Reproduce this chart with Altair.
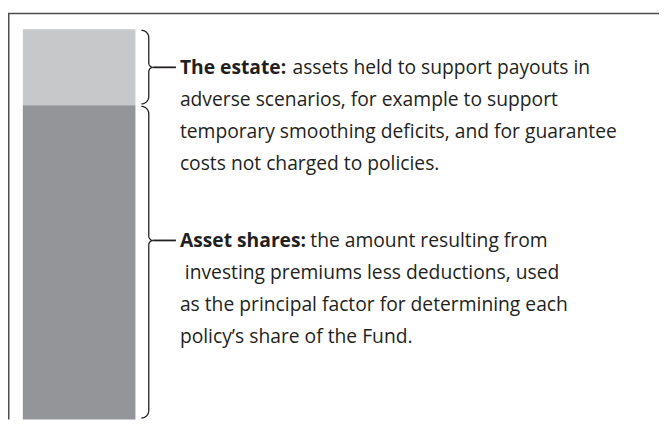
import altair as alt
import pandas as pd
import numpy as np

# ---- data -------------------------------------------------------------
segments = ["The estate", "Asset shares"]
shares = [19.5, 80.5]                      # share of the fund (percent of bar height)
seg_colors = ["#c7c8ca", "#939598"]

bold_labels = ["The estate:", "Asset shares:"]
estate_lines = [
    "assets held to support payouts in",
    "adverse scenarios, for example to support",
    "temporary smoothing deficits, and for guarantee",
    "costs not charged to policies.",
]
asset_lines = [
    "the amount resulting from",
    "investing premiums less deductions, used",
    "as the principal factor for determining each",
    "policy\u2019s share of the Fund.",
]
asset_indent = [0, 5, 0, 0]       # second line is indented by one space in the source

# ---- layout (pixels, chart coordinates) --------------------------------
W, H = 659, 414
Y0, Y1 = 19, 414                 # bar top / bottom on screen
PXP = (Y1 - Y0) / 100.0          # pixels per percent
TEXT = "#231f20"
FONT = "Open Sans"
FS = 19.5
LINE_H = 32.4
tip_frac = [0.5, 0.43]
cont_x = [288, 306]              # where regular text continues after bold label
X_CURL, X_VERT, R1, R2 = 135, 142.5, 7.5, 4.5
X_TIP = X_VERT + R2
X_DASH_END = 170
X_TEXT = 174

def to_pct(px):
    return (px - Y0) / PXP

# bar table
starts = np.concatenate([[0], np.cumsum(shares)[:-1]])
ends = np.cumsum(shares)
bar_df = pd.DataFrame({"segment": segments, "start": starts, "end": ends, "col": "Fund"})

# braces derived from segment extents
brace_rows, dash_rows, text_rows = [], [], []
for i, seg in enumerate(segments):
    t = Y0 + starts[i] * PXP + 1
    b = Y0 + ends[i] * PXP - 1.5
    m = Y0 + (starts[i] + tip_frac[i] * shares[i]) * PXP
    a = np.linspace(0, np.pi / 2, 12)
    pts = []
    pts += [(X_CURL + R1 * np.sin(v), t + R1 - R1 * np.cos(v)) for v in a]
    pts += [(X_VERT + R2 - R2 * np.cos(v), m - R2 + R2 * np.sin(v)) for v in a]
    pts += [(X_VERT + R2 - R2 * np.cos(v), m + R2 - R2 * np.sin(v)) for v in a[::-1]]
    pts += [(X_CURL + R1 * np.cos(v), b - R1 + R1 * np.sin(v)) for v in a]
    for k, (px, py) in enumerate(pts):
        brace_rows.append({"brace": seg, "x": px, "y": to_pct(py), "o": k})
    dash_rows.append({"x": X_TIP, "x2": X_DASH_END, "y": to_pct(m)})
    lines = estate_lines if i == 0 else asset_lines
    indent = [0, 0, 0, 0] if i == 0 else asset_indent
    text_rows.append({"text": bold_labels[i], "x": X_TEXT, "y": to_pct(m + 0.5), "w": "bold"})
    for j, ln in enumerate(lines):
        text_rows.append({"text": ln, "x": (cont_x[i] if j == 0 else X_TEXT) + indent[j],
                          "y": to_pct(m + 0.5 + j * LINE_H), "w": "normal"})

brace_df = pd.DataFrame(brace_rows)
dash_df = pd.DataFrame(dash_rows)
text_df = pd.DataFrame(text_rows)

yscale = alt.Scale(domain=[0, 100], range=[Y0, Y1], nice=False, zero=False)
xscale = alt.Scale(domain=[0, W], nice=False, zero=False)

bars = alt.Chart(bar_df).mark_bar().encode(
    x=alt.X("col:N", scale=alt.Scale(domain=["Fund"], range=[15, 129],
                                     paddingInner=0, paddingOuter=0), axis=None),
    y=alt.Y("start:Q", scale=yscale, axis=None),
    y2="end:Q",
    color=alt.Color("segment:N", scale=alt.Scale(domain=segments, range=seg_colors), legend=None),
)

braces = alt.Chart(brace_df).mark_line(color=TEXT, strokeWidth=1.3).encode(
    x=alt.X("x:Q", scale=xscale, axis=None),
    y=alt.Y("y:Q", scale=yscale, axis=None),
    detail="brace:N",
    order="o:Q",
)

dashes = alt.Chart(dash_df).mark_rule(color=TEXT, strokeWidth=1.8).encode(
    x=alt.X("x:Q", scale=xscale, axis=None),
    x2="x2:Q",
    y=alt.Y("y:Q", scale=yscale, axis=None),
)

bold_text = alt.Chart(text_df).transform_filter(alt.datum.w == "bold").mark_text(
    align="left", baseline="middle", font=FONT, fontSize=FS, fontWeight="bold", color=TEXT
).encode(
    x=alt.X("x:Q", scale=xscale, axis=None),
    y=alt.Y("y:Q", scale=yscale, axis=None),
    text="text:N",
)

reg_text = alt.Chart(text_df).transform_filter(alt.datum.w == "normal").mark_text(
    align="left", baseline="middle", font=FONT, fontSize=FS, color=TEXT
).encode(
    x=alt.X("x:Q", scale=xscale, axis=None),
    y=alt.Y("y:Q", scale=yscale, axis=None),
    text="text:N",
)

frame_top = alt.Chart(bar_df.head(1)).mark_rule(color="#4d4d4d", strokeWidth=1.5).encode(
    x=alt.value(0), x2=alt.value(W), y=alt.value(3)
)
frame_left = alt.Chart(bar_df.head(1)).mark_rule(color="#4d4d4d", strokeWidth=1.5).encode(
    x=alt.value(0.75), y=alt.value(3), y2=alt.value(H)
)

chart = alt.layer(
    bars, braces, dashes, bold_text, reg_text, frame_top, frame_left
).resolve_scale(x="independent").properties(
    width=W, height=H, padding=0, autosize=alt.AutoSizeParams(type="none")
).configure_view(strokeWidth=0)

chart.save("out.html", embed_options={"renderer": "svg", "actions": False})
